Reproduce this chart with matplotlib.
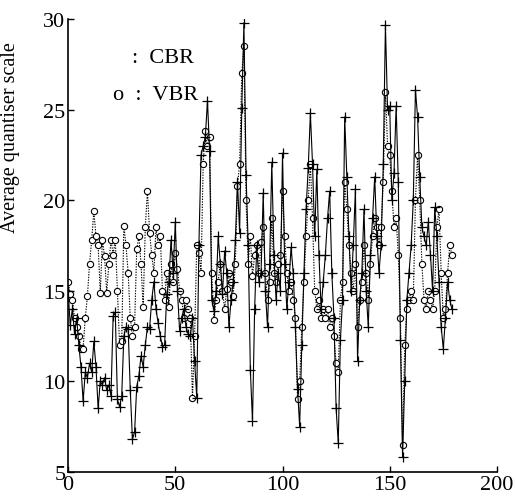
import matplotlib
matplotlib.use("Agg")
import matplotlib.pyplot as plt

# frame index 0..179
frames = list(range(180))

# CBR, solid line with + markers
cbr = [15.0, 13.1, 14.0, 12.6, 13.5, 12.0, 10.8, 8.9, 10.5, 10.2,
       11.0, 10.5, 12.2, 10.8, 8.5, 10.0, 9.8, 10.2, 9.5, 9.8,
       9.2, 13.6, 13.8, 9.0, 8.6, 9.2, 12.5, 13.0, 12.9, 9.5,
       6.8, 7.2, 9.7, 10.3, 11.4, 10.8, 12.0, 13.0, 12.9, 14.5,
       15.5, 14.0, 13.2, 12.5, 11.9, 12.0, 14.8, 15.5, 17.8, 16.0,
       18.8, 15.0, 12.8, 13.5, 14.0, 13.0, 12.6, 12.5, 13.5, 11.1,
       9.1, 17.5, 22.5, 23.0, 23.5, 25.5, 22.7, 14.5, 13.9, 15.0,
       18.0, 16.5, 14.8, 17.2, 16.0, 13.0, 14.5, 15.5, 17.8, 21.0,
       18.2, 25.1, 29.8, 21.4, 17.5, 10.6, 7.8, 14.0, 17.5, 15.5,
       16.0, 20.4, 15.0, 13.0, 16.5, 22.1, 17.0, 14.5, 16.0, 15.0,
       22.6, 16.5, 14.0, 15.5, 17.4, 16.0, 13.0, 9.6, 7.5, 12.0,
       16.0, 19.5, 21.8, 24.8, 22.0, 18.0, 21.7, 17.0, 14.0, 15.5,
       17.0, 19.0, 20.5, 16.0, 13.5, 8.5, 6.6, 12.3, 14.5, 24.6,
       21.3, 18.0, 15.0, 17.5, 20.6, 11.1, 14.5, 16.0, 19.5, 15.0,
       13.0, 17.0, 19.0, 21.3, 18.0, 16.0, 17.5, 22.0, 29.7, 25.0,
       25.2, 20.0, 21.5, 25.2, 21.0, 12.3, 5.8, 10.0, 14.5, 16.0,
       17.5, 20.0, 26.1, 24.6, 21.3, 18.5, 18.0, 17.5, 18.8, 17.0,
       15.0, 19.6, 18.0, 15.5, 13.0, 11.8, 13.5, 15.5, 14.5, 14.0]

# VBR, dotted line with o markers
vbr = [15.5, 14.8, 14.5, 13.5, 13.0, 12.5, 11.8, 11.8, 13.5, 14.7,
       16.5, 17.8, 19.4, 18.0, 17.5, 14.9, 17.8, 16.9, 14.9, 16.5,
       17.8, 17.0, 17.8, 15.0, 12.0, 12.2, 18.6, 17.5, 16.0, 13.5,
       12.5, 13.0, 17.3, 18.0, 16.5, 14.1, 18.5, 20.5, 18.2, 17.0,
       16.0, 18.5, 17.5, 18.0, 15.0, 14.5, 16.0, 14.1, 16.5, 15.5,
       17.1, 16.2, 15.0, 14.5, 13.5, 14.5, 14.0, 13.5, 9.1, 12.5,
       17.5, 17.1, 16.0, 22.0, 23.8, 23.0, 23.5, 16.0, 13.4, 14.5,
       15.5, 16.5, 15.0, 14.0, 15.1, 16.0, 15.5, 14.7, 16.5, 20.8,
       22.0, 27.0, 28.5, 20.0, 16.5, 18.0, 15.8, 17.0, 17.5, 16.0,
       17.7, 18.5, 16.0, 14.5, 15.5, 19.0, 16.0, 15.5, 16.5, 17.0,
       20.5, 18.0, 16.0, 15.0, 15.5, 14.5, 13.5, 9.0, 10.0, 13.0,
       15.5, 18.0, 20.0, 22.0, 19.0, 15.0, 14.0, 14.5, 13.5, 14.0,
       13.5, 14.0, 13.0, 13.5, 12.5, 11.0, 10.5, 14.5, 15.5, 21.0,
       19.5, 17.5, 16.0, 15.0, 16.5, 13.0, 14.5, 15.5, 17.5, 16.0,
       14.5, 16.5, 18.0, 19.0, 18.5, 17.5, 18.5, 21.0, 26.0, 23.0,
       22.5, 20.5, 18.5, 19.0, 17.0, 13.5, 6.5, 12.0, 14.0, 14.5,
       15.0, 14.5, 20.0, 22.5, 20.0, 16.5, 14.5, 14.0, 15.0, 14.5,
       14.0, 15.0, 18.5, 19.5, 16.0, 13.5, 14.0, 16.0, 17.5, 17.0]

plt.rcParams['font.family'] = ['Liberation Serif', 'DejaVu Serif']

fig = plt.figure(figsize=(5.16, 5.02), dpi=100)
ax = fig.add_axes([0.132, 0.058, 0.831, 0.902])

ax.plot(frames, vbr, linestyle=(0, (1.2, 1.2)), color='black', linewidth=0.8,
        marker='o', markersize=4.5, markerfacecolor='white',
        markeredgecolor='black', markeredgewidth=0.8, label='VBR')
ax.plot(frames, cbr, linestyle='-', color='black', linewidth=0.8,
        marker='+', markersize=7, markeredgewidth=0.9, label='CBR')

ax.set_xlim(0, 200)
ax.set_ylim(5, 30)
ax.set_xticks([0, 50, 100, 150, 200])
ax.set_yticks([5, 10, 15, 20, 25, 30])
ax.spines['top'].set_visible(False)
ax.spines['right'].set_visible(False)
for s in ('left', 'bottom'):
    ax.spines[s].set_linewidth(1.2)
ax.tick_params(direction='in', length=4, width=1.0, labelsize=16, pad=2)
ax.set_ylabel('Average quantiser scale', fontsize=14.5)
ax.yaxis.set_label_coords(-0.112, 0.74)

# legend written as plain text, as in the original
ax.text(0.15, 0.915, ':  CBR', transform=ax.transAxes, fontsize=16,
        va='center', ha='left')
ax.text(0.105, 0.833, 'o  :  VBR', transform=ax.transAxes, fontsize=16,
        va='center', ha='left')

fig.savefig('out.png', dpi=100)
